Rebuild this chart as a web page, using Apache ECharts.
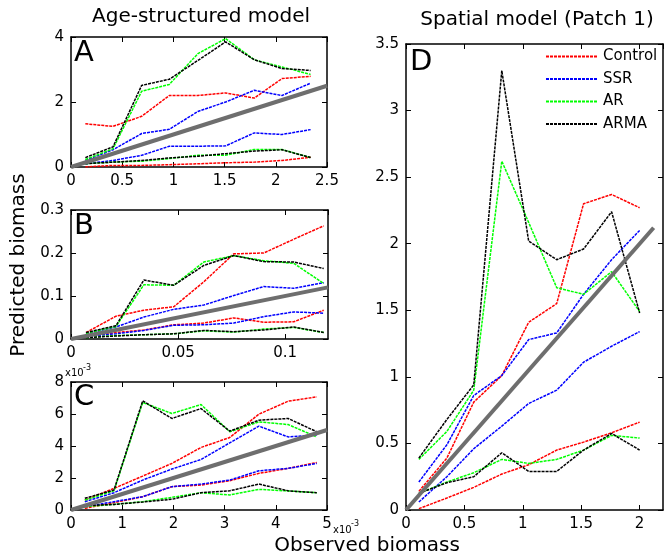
<!DOCTYPE html>
<html><head><meta charset="utf-8">
<script src="https://cdn.jsdelivr.net/npm/echarts@6/dist/echarts.min.js"></script>
<style>html,body{margin:0;padding:0;background:#fff}#c{width:664px;height:556px}</style>
</head><body><div id="c"></div>
<script>
// Panel A (Age-structured)
var xA = [0.14,0.41,0.69,0.96,1.24,1.51,1.79,2.06,2.34];
var A_ctrl_hi = [1.33,1.25,1.56,2.2,2.2,2.28,2.12,2.72,2.79];
var A_ctrl_lo = [0.0,0.05,0.05,0.07,0.1,0.13,0.15,0.2,0.3];
var A_ssr_hi  = [0.2,0.53,1.03,1.16,1.71,2.0,2.36,2.2,2.58];
var A_ssr_lo  = [0.1,0.2,0.36,0.64,0.64,0.65,1.05,1.0,1.15];
var A_ar_hi   = [0.23,0.56,2.33,2.54,3.49,3.95,3.3,3.08,2.85];
var A_ar_lo   = [0.1,0.15,0.18,0.26,0.36,0.36,0.54,0.54,0.29];
var A_arma_hi = [0.29,0.62,2.51,2.7,3.28,3.85,3.3,3.03,2.97];
var A_arma_lo = [0.1,0.15,0.2,0.28,0.33,0.41,0.49,0.53,0.29];
// Panel B
var xB = [0.007,0.021,0.034,0.048,0.062,0.076,0.090,0.104,0.118];
var B_ctrl_hi = [0.015,0.053,0.067,0.075,0.133,0.198,0.2,0.232,0.263];
var B_ctrl_lo = [0.006,0.015,0.021,0.033,0.037,0.049,0.039,0.04,0.067];
var B_ssr_hi  = [0.012,0.028,0.051,0.069,0.079,0.101,0.122,0.118,0.131];
var B_ssr_lo  = [0.006,0.012,0.02,0.032,0.033,0.037,0.052,0.063,0.06];
var B_ar_hi   = [0.013,0.029,0.126,0.125,0.179,0.194,0.182,0.176,0.129];
var B_ar_lo   = [0.003,0.008,0.01,0.012,0.019,0.016,0.023,0.027,0.015];
var B_arma_hi = [0.015,0.031,0.137,0.125,0.171,0.194,0.18,0.179,0.164];
var B_arma_lo = [0.003,0.007,0.01,0.012,0.02,0.017,0.021,0.028,0.015];
// Panel C (units of 1e-3)
var xC = [0.27,0.84,1.4,1.97,2.54,3.1,3.67,4.24,4.8];
var C_ctrl_hi = [0.62,1.35,2.12,2.91,3.91,4.53,5.99,6.8,7.07];
var C_ctrl_lo = [0.1,0.46,0.83,1.46,1.56,1.83,2.29,2.6,2.97];
var C_ssr_hi  = [0.52,1.08,1.87,2.56,3.16,4.2,5.24,4.57,4.68];
var C_ssr_lo  = [0.21,0.52,0.83,1.46,1.62,1.87,2.45,2.6,2.91];
var C_ar_hi   = [0.62,1.2,6.72,6.03,6.59,4.89,5.51,5.34,4.57];
var C_ar_lo   = [0.21,0.35,0.52,0.79,1.08,0.94,1.29,1.19,1.08];
var C_arma_hi = [0.73,1.25,6.82,5.72,6.34,4.93,5.61,5.72,4.89];
var C_arma_lo = [0.27,0.35,0.5,0.67,1.08,1.2,1.62,1.2,1.08];
// Panel D (Spatial, Patch 1)
var xD = [0.11,0.35,0.58,0.82,1.05,1.29,1.52,1.76,2.0];
var D_ctrl_hi = [0.14,0.39,0.81,1.01,1.41,1.55,2.3,2.37,2.27];
var D_ctrl_lo = [0.01,0.09,0.17,0.27,0.34,0.45,0.51,0.58,0.66];
var D_ssr_hi  = [0.21,0.49,0.86,1.01,1.28,1.33,1.62,1.88,2.1];
var D_ssr_lo  = [0.06,0.25,0.46,0.63,0.8,0.9,1.11,1.23,1.34];
var D_ar_hi   = [0.38,0.59,0.9,2.62,2.16,1.67,1.62,1.79,1.49];
var D_ar_lo   = [0.125,0.21,0.28,0.38,0.35,0.38,0.45,0.56,0.54];
var D_arma_hi = [0.39,0.68,0.94,3.3,2.02,1.88,1.96,2.24,1.48];
var D_arma_lo = [0.125,0.205,0.25,0.43,0.29,0.29,0.45,0.575,0.45];

var names = ['Control','SSR','AR','ARMA'];
var colors = ['#ff0000','#0000ff','#00ff00','#000000'];
var diagEnd = [2.5, 0.12, 5, 2.12];

var panels = [
  {x:xA, s:[[A_ctrl_hi,A_ctrl_lo],[A_ssr_hi,A_ssr_lo],[A_ar_hi,A_ar_lo],[A_arma_hi,A_arma_lo]]},
  {x:xB, s:[[B_ctrl_hi,B_ctrl_lo],[B_ssr_hi,B_ssr_lo],[B_ar_hi,B_ar_lo],[B_arma_hi,B_arma_lo]]},
  {x:xC, s:[[C_ctrl_hi,C_ctrl_lo],[C_ssr_hi,C_ssr_lo],[C_ar_hi,C_ar_lo],[C_arma_hi,C_arma_lo]]},
  {x:xD, s:[[D_ctrl_hi,D_ctrl_lo],[D_ssr_hi,D_ssr_lo],[D_ar_hi,D_ar_lo],[D_arma_hi,D_arma_lo]]}
];

var grids = [
  {left:71, top:37, width:256, height:130},
  {left:71, top:210, width:257, height:129},
  {left:71, top:382, width:256, height:128},
  {left:406, top:44, width:257, height:466}
];
var xr = [[0,2.5,0.5],[0,0.12,0.05],[0,5,1],[0,2.2,0.5]];
var yr = [[0,4,2],[0,0.3,0.1],[0,8,2],[0,3.5,0.5]];

var FONT = 'DejaVu Sans';
var xAxes = [], yAxes = [], series = [];
function ax(gi, r, pos, labels) {
  var n = r[1] / r[2];
  return {type:'value', gridIndex:gi, min:r[0], max:r[1], interval:r[2], position:pos,
    axisLine:{show:true, onZero:false, lineStyle:{color:'#000', width:1.5}},
    axisTick:{show:true, inside:true, length:5, lineStyle:{color:'#000', width:1}},
    splitLine:{show:false},
    axisLabel:{show:labels, color:'#000', fontSize:15, fontFamily:FONT, margin:7,
      showMaxLabel: Math.abs(n - Math.round(n)) < 1e-9}};
}
for (var g = 0; g < 4; g++) {
  xAxes.push(ax(g, xr[g], 'bottom', true));
  xAxes.push(ax(g, xr[g], 'top', false));
  yAxes.push(ax(g, yr[g], 'left', true));
  yAxes.push(ax(g, yr[g], 'right', false));
  var p = panels[g];
  for (var k = 0; k < 4; k++) {
    for (var j = 0; j < 2; j++) {
      var ys = p.s[k][j];
      series.push({type:'line', name:names[k], xAxisIndex:g*2, yAxisIndex:g*2,
        data:p.x.map(function(x,i){return [x, ys[i]];}),
        symbol:'none', silent:true,
        lineStyle:{color:colors[k], width:1.5, type:[3,1]},
        itemStyle:{color:colors[k]}});
    }
  }
  series.push({type:'line', name:'diag', xAxisIndex:g*2, yAxisIndex:g*2,
    data:[[0,0],[diagEnd[g],diagEnd[g]]], symbol:'none', silent:true,
    lineStyle:{color:'#6e6e6e', width:4}});
}

function txt(s, x, y, size, opt) {
  opt = opt || {};
  return {type:'text', x:x, y:y, rotation:opt.rot || 0, silent:true,
    style:{text:s, fill:'#000', fontSize:size, fontFamily:FONT,
      align:opt.align || 'left', verticalAlign:opt.va || 'middle'}};
}

var option = {
  animation:false,
  backgroundColor:'#fff',
  grid:grids,
  xAxis:xAxes,
  yAxis:yAxes,
  series:series,
  legend:{data:names, orient:'vertical', left:545, top:49, itemWidth:52, itemHeight:14, itemGap:7.5,
    padding:0, itemStyle:{opacity:0},
    textStyle:{fontFamily:FONT, fontSize:15, color:'#000'}, selectedMode:false},
  graphic:[
    txt('Age-structured model', 201, 17, 20, {align:'center'}),
    txt('Spatial model (Patch 1)', 537, 20, 20, {align:'center'}),
    txt('Predicted biomass', 19, 265, 20, {align:'center', rot:Math.PI/2}),
    txt('Observed biomass', 367, 546, 20, {align:'center'}),
    txt('A', 74, 53, 29),
    txt('B', 74, 226, 29),
    txt('C', 74, 397, 29),
    txt('D', 410, 62, 29),
    txt('x10', 65, 373, 10),
    txt('-3', 83, 368, 8),
    txt('x10', 333, 530, 10),
    txt('-3', 351, 524, 8)
  ]
};
var chart = echarts.init(document.getElementById('c'), null, {renderer:'canvas'});
chart.setOption(option);
</script></body></html>
